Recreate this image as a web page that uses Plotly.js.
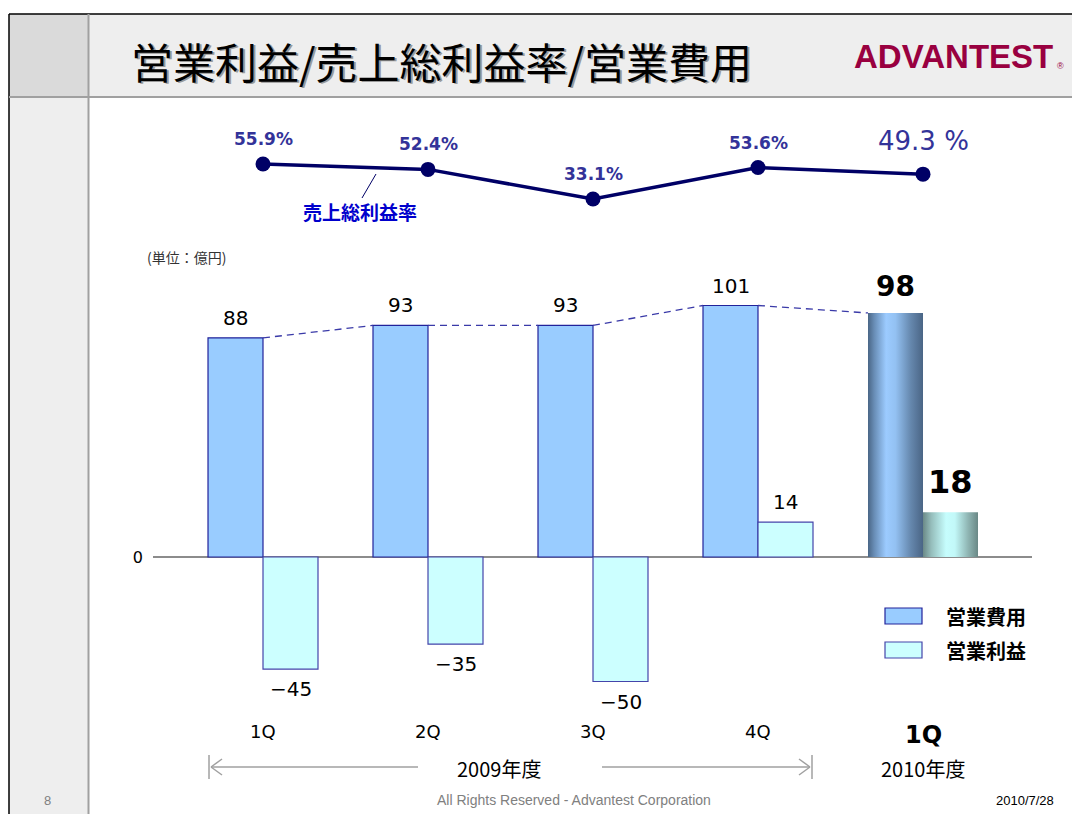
<!DOCTYPE html>
<html>
<head>
<meta charset="utf-8">
<script src="https://cdn.plot.ly/plotly-3.0.1.min.js"></script>
<style>
  html, body { margin: 0; padding: 0; background: #ffffff; }
  #chart { width: 1072px; height: 814px; }
</style>
</head>
<body>
<div id="chart"></div>
<script>
// ---- data ----
const categories = ['1Q', '2Q', '3Q', '4Q', '1Q'];
const expense = [88, 93, 93, 101, 98];          // 営業費用 (億円)
const profit = [-45, -35, -50, 14, 18];         // 営業利益 (億円)
const grossMargin = [55.9, 52.4, 33.1, 53.6, 49.3]; // 売上総利益率 (%)
const seriesNames = ['営業費用', '営業利益'];
const lineName = '売上総利益率';
const fiscalYears = ['2009年度', '2010年度'];
const unitLabel = '(単位：億円)';
const titleText = '営業利益/売上総利益率/営業費用';
const highlight = 4; // latest quarter

// ---- geometry helpers (layout) ----
const W = 1072, H = 814;
const M = { l: 153, r: 40, t: 110, b: 114 };
const PW = W - M.l - M.r, PH = H - M.t - M.b;
const px = x => (x - M.l) / PW;
const py = y => (H - M.b - y) / PH;
const XR = [-0.6667, 4.6606];
const xToPx = v => M.l + (v - XR[0]) / (XR[1] - XR[0]) * PW;

const idx = categories.map((c, i) => i);
const JP = 'Noto Sans CJK JP, sans-serif';
const NUM = 'DejaVu Sans, sans-serif';

const expColors = expense.map((v, i) => i === highlight ? '#7aa6d6' : '#99ccff');
const proColors = profit.map((v, i) => i === highlight ? '#a8dede' : '#ccffff');
const expLineW = expense.map((v, i) => i === highlight ? 0 : 1.2);
const proLineW = profit.map((v, i) => i === highlight ? 0 : 1.2);

// dashed connector between expense bar tops
const dashX = [], dashY = [];
for (let i = 0; i < expense.length - 1; i++) {
  dashX.push(idx[i], idx[i + 1] - 1 / 3, null);
  dashY.push(expense[i], expense[i + 1], null);
}

const traces = [
  {
    type: 'bar', name: seriesNames[0], x: idx, y: expense,
    width: 1 / 3, offset: -1 / 3,
    marker: { color: expColors, line: { color: '#22229a', width: expLineW } },
    hoverinfo: 'y', showlegend: false
  },
  {
    type: 'bar', name: seriesNames[1], x: idx, y: profit,
    width: 1 / 3, offset: 0,
    marker: { color: proColors, line: { color: '#4444aa', width: proLineW } },
    hoverinfo: 'y', showlegend: false
  },
  {
    type: 'scatter', mode: 'lines', x: dashX, y: dashY,
    line: { color: '#3a3aa8', width: 1.3, dash: '7px,5px' },
    hoverinfo: 'skip', showlegend: false
  },
  {
    type: 'scatter', mode: 'lines+markers', name: lineName, x: idx, y: grossMargin,
    yaxis: 'y2',
    line: { color: '#000066', width: 3.5 },
    marker: { color: '#000066', size: 15 },
    showlegend: false
  }
];

const annotations = [];
// bar value labels
expense.forEach((v, i) => {
  const big = i === highlight;
  const size = big ? 28 : 20;
  annotations.push({
    xref: 'x', yref: 'y', x: idx[i] - 1 / 6, y: v, yanchor: 'middle', xanchor: 'center',
    yshift: Math.sign(v) * (size / 2 + (big ? 12 : 10)),
    text: big ? '<b>' + v + '</b>' : String(v), showarrow: false,
    font: { family: NUM, size: size, color: '#000000' }
  });
});
profit.forEach((v, i) => {
  const big = i === highlight;
  const size = big ? 32 : 20;
  annotations.push({
    xref: 'x', yref: 'y', x: idx[i] + 1 / 6, y: v, yanchor: 'middle', xanchor: 'center',
    yshift: Math.sign(v) * (size / 2 + (big ? 14 : 10)),
    text: (v < 0 ? '\u2212' : '') + Math.abs(v), showarrow: false,
    font: { family: NUM, size: size, color: '#000000', weight: big ? 'bold' : 'normal' }
  });
});
// gross margin labels
grossMargin.forEach((v, i) => {
  const big = i === highlight;
  const size = big ? 26 : 17;
  annotations.push({
    xref: 'x', yref: 'y2', x: idx[i], y: v, yanchor: 'middle', xanchor: 'center',
    yshift: big ? 33 : 25,
    text: big ? v.toFixed(1) + ' %' : '<b>' + v.toFixed(1) + '%</b>', showarrow: false,
    font: { family: NUM, size: size, color: '#333399' }
  });
});
// category labels
categories.forEach((c, i) => {
  const big = i === highlight;
  annotations.push({
    xref: 'x', yref: 'paper', x: idx[i], y: py(big ? 735 : 731), yanchor: 'middle', xanchor: 'center',
    text: big ? '<b>' + c + '</b>' : c, showarrow: false,
    font: { family: NUM, size: big ? 24 : 18, color: '#000000' }
  });
});
// fiscal years
annotations.push({
  xref: 'x', yref: 'paper', x: (idx[0] + idx[3]) / 2 - 0.07, y: py(768), yanchor: 'middle', xanchor: 'center',
  text: fiscalYears[0], showarrow: false, font: { family: JP, size: 20, color: '#000000' }
});
annotations.push({
  xref: 'x', yref: 'paper', x: idx[highlight], y: py(768), yanchor: 'middle', xanchor: 'center',
  text: fiscalYears[1], showarrow: false, font: { family: JP, size: 20, color: '#000000' }
});
// line name label
annotations.push({
  xref: 'paper', yref: 'paper', x: px(360), y: py(211), yanchor: 'middle', xanchor: 'center',
  text: '<b>' + lineName + '</b>', showarrow: false,
  font: { family: JP, size: 19, color: '#0000cc' }
});
// unit
annotations.push({
  xref: 'paper', yref: 'paper', x: px(145), y: py(257), xanchor: 'left', yanchor: 'middle',
  text: unitLabel, showarrow: false, font: { family: JP, size: 14, color: '#333333' }
});
// legend texts
seriesNames.forEach((n, k) => {
  annotations.push({
    xref: 'paper', yref: 'paper', x: px(944), y: py(616 + 34 * k), xanchor: 'left', yanchor: 'middle',
    text: '<b>' + n + '</b>', showarrow: false, font: { family: JP, size: 20, color: '#000000' }
  });
});
// title with shadow
annotations.push({
  xref: 'paper', yref: 'paper', x: px(443), y: py(62), xanchor: 'center', yanchor: 'middle',
  text: titleText, showarrow: false, font: { family: JP, size: 42, color: '#9a9a9a' }
});
annotations.push({
  xref: 'paper', yref: 'paper', x: px(441), y: py(60), xanchor: 'center', yanchor: 'middle',
  text: titleText, showarrow: false, font: { family: JP, size: 42, color: '#000000' }
});
// logo
annotations.push({
  xref: 'paper', yref: 'paper', x: px(1055), y: py(57), xanchor: 'right', yanchor: 'middle',
  text: '<b>ADVANTEST</b>', showarrow: false,
  font: { family: 'Liberation Sans, Arial, sans-serif', size: 33, color: '#990040' }
});
annotations.push({
  xref: 'paper', yref: 'paper', x: px(1055), y: py(66), xanchor: 'left', yanchor: 'middle',
  text: '®', showarrow: false, font: { family: 'Liberation Sans, sans-serif', size: 9, color: '#990040' }
});
// footer
annotations.push({
  xref: 'paper', yref: 'paper', x: px(47), y: py(800), yanchor: 'middle', xanchor: 'center',
  text: '8', showarrow: false, font: { family: 'Liberation Sans, sans-serif', size: 13, color: '#808080' }
});
annotations.push({
  xref: 'paper', yref: 'paper', x: px(574), y: py(800), yanchor: 'middle', xanchor: 'center',
  text: 'All Rights Reserved - Advantest Corporation', showarrow: false,
  font: { family: 'Liberation Sans, sans-serif', size: 14, color: '#808080' }
});
annotations.push({
  xref: 'paper', yref: 'paper', x: px(1056), y: py(800), xanchor: 'right', yanchor: 'middle',
  text: '2010/7/28', showarrow: false,
  font: { family: 'Liberation Sans, sans-serif', size: 13, color: '#000000' }
});

// shapes
const P = (x0, y0, x1, y1, o) => Object.assign({
  type: 'line', xref: 'paper', yref: 'paper', x0: px(x0), y0: py(y0), x1: px(x1), y1: py(y1)
}, o);
const R = (x0, y0, x1, y1, o) => Object.assign({
  type: 'rect', xref: 'paper', yref: 'paper', x0: px(x0), y0: py(y0), x1: px(x1), y1: py(y1)
}, o);
const gray = { color: '#a0a0a0', width: 1.5 };
const lx = xToPx(idx[0] - 1 / 3) + 1, rx = xToPx(idx[3] + 1 / 3) - 1;
const shapes = [
  R(9, 14, W + 2, 97, { fillcolor: '#eeeeee', line: { width: 0 }, layer: 'below' }),
  R(9, 14, 88, 97, { fillcolor: '#dadada', line: { width: 0 }, layer: 'below' }),
  R(9, 97, 88, H + 2, { fillcolor: '#eeeeee', line: { width: 0 }, layer: 'below' }),
  P(9, 14, W + 2, 14, { line: { color: '#000000', width: 1.5 } }),
  P(9, 14, 9, H + 2, { line: { color: '#000000', width: 1.5 } }),
  P(88.5, 14, 88.5, H + 2, { line: { color: '#a0a0a0', width: 2 } }),
  P(9, 97, W + 2, 97, { line: { color: '#a0a0a0', width: 2 } }),
  // fiscal year arrow
  P(lx, 755, lx, 779, { line: gray }),
  P(lx + 2, 767, 418, 767, { line: gray }),
  P(lx + 2, 767, lx + 13, 759, { line: gray }),
  P(lx + 2, 767, lx + 13, 775, { line: gray }),
  P(rx, 755, rx, 779, { line: gray }),
  P(602, 767, rx - 2, 767, { line: gray }),
  P(rx - 2, 767, rx - 13, 759, { line: gray }),
  P(rx - 2, 767, rx - 13, 775, { line: gray }),
  // line-name leader
  P(362, 198, 376, 174, { line: { color: '#000066', width: 1 } }),
  // legend boxes
  R(885, 608, 922, 624, { fillcolor: '#99ccff', line: { color: '#22229a', width: 1.2 } }),
  R(885, 642, 922, 658, { fillcolor: '#ccffff', line: { color: '#4444aa', width: 1.2 } })
];

const layout = {
  width: W, height: H,
  margin: M,
  paper_bgcolor: '#ffffff', plot_bgcolor: 'rgba(0,0,0,0)',
  barmode: 'overlay',
  showlegend: false,
  xaxis: {
    type: 'linear', range: XR, showticklabels: false, showgrid: false,
    zeroline: false, showline: false, ticks: '', fixedrange: true
  },
  yaxis: {
    domain: [0, 450 / PH], range: [-57.43, 123.29],
    tickvals: [0], ticktext: ['0'], showgrid: false, ticks: '',
    zeroline: true, zerolinecolor: '#8c8c8c', zerolinewidth: 2,
    showline: false, tickfont: { family: NUM, size: 16, color: '#000000' },
    ticklabelstandoff: 9, fixedrange: true
  },
  yaxis2: {
    domain: [py(220), py(140)], range: [19.42, 71.54],
    anchor: 'x', visible: false, fixedrange: true
  },
  annotations: annotations,
  shapes: shapes
};

Plotly.newPlot('chart', traces, layout, { displayModeBar: false, staticPlot: true }).then(gd => {
  const svg = gd.querySelector('svg.main-svg');
  let defs = svg.querySelector('defs');
  const NS = 'http://www.w3.org/2000/svg';
  const mkGrad = (id, stops) => {
    const g = document.createElementNS(NS, 'linearGradient');
    g.setAttribute('id', id);
    g.setAttribute('x1', '0'); g.setAttribute('y1', '0');
    g.setAttribute('x2', '1'); g.setAttribute('y2', '0');
    stops.forEach(([o, c]) => {
      const s = document.createElementNS(NS, 'stop');
      s.setAttribute('offset', o); s.setAttribute('stop-color', c);
      g.appendChild(s);
    });
    defs.appendChild(g);
  };
  mkGrad('gradExp', [[0, '#4a6686'], [0.12, '#6a8fb8'], [0.33, '#9ccbff'], [0.5, '#93c1f2'], [0.78, '#6587ad'], [1, '#4a6585']]);
  mkGrad('gradPro', [[0, '#6b8987'], [0.15, '#95bdbb'], [0.42, '#c6fdfd'], [0.58, '#c2f8f8'], [0.82, '#8fb5b3'], [1, '#6a8886']]);
  const bars = gd.querySelectorAll('.barlayer .trace.bars');
  ['gradExp', 'gradPro'].forEach((id, k) => {
    if (!bars[k]) return;
    const pts = bars[k].querySelectorAll('.point path');
    if (pts[highlight]) pts[highlight].style.fill = 'url(#' + id + ')';
  });
});
</script>
</body>
</html>
